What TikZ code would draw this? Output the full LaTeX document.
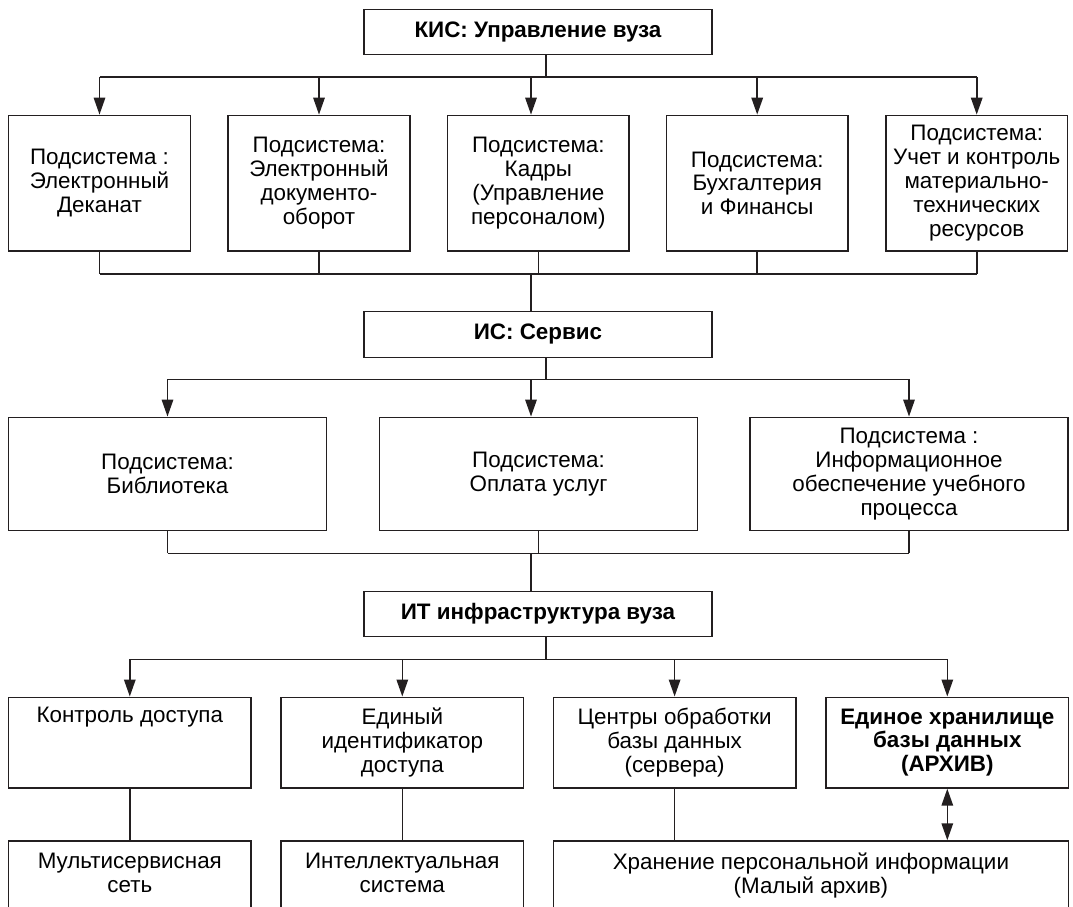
\documentclass[tikz,border=0pt]{standalone}
\usepackage{fontspec}
\setmainfont{Liberation Sans}
\usetikzlibrary{arrows.meta}
\definecolor{ink}{RGB}{35,31,32}
\begin{document}
\begin{tikzpicture}[x=1pt,y=-1pt,
  box/.style={draw=ink, line width=1.5pt, align=center, inner sep=0pt, text=black,
    font=\fontsize{22.4}{23.8}\selectfont},
  tbox/.style={box, font=\fontsize{22.4}{23.8}\selectfont\bfseries, minimum width=348pt, minimum height=45pt},
  rowa/.style={box, minimum width=181.6pt, minimum height=135.7pt},
  rowb/.style={box, minimum width=317.6pt, minimum height=113.4pt},
  rowc/.style={box, minimum width=242.4pt, minimum height=90.7pt},
  rowd/.style={box, minimum height=95pt},
  ln/.style={draw=ink, line width=1.6pt},
  arr/.style={ln, -{Triangle[length=17pt,width=11.5pt]}},
  darr/.style={ln, {Triangle[length=17pt,width=11.5pt]}-{Triangle[length=17pt,width=11.5pt]}}
]
\useasboundingbox (0,0) rectangle (1073,906);
\fill[white] (0,0) rectangle (1073,906);
\clip (0,0) rectangle (1073,906);

% ---- level 1
\node[tbox] (kis) at (538,31.8) {КИС: Управление вуза};

\node[rowa] (b1) at (99.5,183.2) {Подсистема :\\Электронный\\Деканат};
\node[rowa] (b2) at (319,183.2) {Подсистема:\\Электронный\\документо-\\оборот};
\node[rowa] (b3) at (538.3,183.2) {Подсистема:\\Кадры\\(Управление\\персоналом)};
\node[rowa] (b4) at (757.2,183.2) {Подсистема:\\Бухгалтерия\\и Финансы};
\node[rowa] (b5) at (976.7,183.2) {Подсистема:\\Учет и контроль\\материально-\\технических\\ресурсов};

\coordinate (k1) at (546,77);
\coordinate (a3) at (531,77);
\draw[ln] (kis.south -| k1) -- (k1);
\draw[ln] (b1.north |- k1) -- (b5.north |- k1);
\foreach \b in {b1,b2,b4,b5} \draw[arr] (\b.north |- k1) -- (\b.north);
\draw[arr] (a3) -- (a3 |- b3.north);

% ---- collector 1
\coordinate (c1) at (531,274);
\foreach \b in {b1,b2,b3,b4,b5} \draw[ln] (\b.south) -- (\b.south |- c1);
\draw[ln] (b1.south |- c1) -- (b5.south |- c1);

% ---- level 2
\node[tbox, minimum height=46pt] (is) at (538,334.3) {ИС: Сервис};
\draw[ln] (c1) -- (c1 |- is.north);

\node[rowb] (s1) at (167.5,474) {Подсистема:\\Библиотека};
\node[rowb] (s2) at (538.5,474) {Подсистема:\\Оплата услуг};
\node[rowb] (s3) at (909,474) {Подсистема :\\Информационное\\обеспечение учебного\\процесса};

\coordinate (k2) at (546,379.3);
\draw[ln] (is.south -| k2) -- (k2);
\draw[ln] (s1.north |- k2) -- (s3.north |- k2);
\draw[arr] (s1.north |- k2) -- (s1.north);
\draw[arr] (s3.north |- k2) -- (s3.north);
\draw[arr] (c1 |- k2) -- (c1 |- s2.north);

% ---- collector 2
\coordinate (c2) at (531,553.3);
\foreach \b in {s1,s2,s3} \draw[ln] (\b.south) -- (\b.south |- c2);
\draw[ln] (s1.south |- c2) -- (s3.south |- c2);

% ---- level 3
\node[tbox] (it) at (538,614) {ИТ инфраструктура вуза};
\draw[ln] (c2) -- (c2 |- it.north);

\node[rowc] (r1) at (129.8,742.6) {Контроль доступа\\\strut\\\strut};
\node[rowc] (r2) at (402.3,742.6) {Единый\\идентификатор\\доступа};
\node[rowc] (r3) at (674.6,742.6) {Центры обработки\\базы данных\\(сервера)};
\node[rowc, font=\fontsize{22.4}{23.8}\selectfont\bfseries] (r4) at (947.3,742.6) {Единое хранилище\\базы данных\\(АРХИВ)};

\coordinate (k3) at (546,659.3);
\draw[ln] (it.south -| k3) -- (k3);
\draw[ln] (r1.north |- k3) -- (r4.north |- k3);
\foreach \b in {r1,r2,r3,r4} \draw[arr] (\b.north |- k3) -- (\b.north);

% ---- bottom row (cut off by the lower edge)
\node[rowd, minimum width=242.4pt] (m1) at (129.8,888.5) {Мультисервисная\\сеть\\\strut};
\node[rowd, minimum width=242.4pt] (m2) at (402.3,888.5) {Интеллектуальная\\система\\\strut};
\node[rowd, minimum width=515.3pt] (m3) at (810.9,888.5) {Хранение персональной информации\\(Малый архив)\\\strut};

\draw[ln] (r1.south) -- (r1.south |- m1.north);
\draw[ln] (r2.south) -- (r2.south |- m2.north);
\draw[ln] (r3.south) -- (r3.south |- m3.north);
\draw[darr] (r4.south) -- (r4.south |- m3.north);
\end{tikzpicture}
\end{document}
